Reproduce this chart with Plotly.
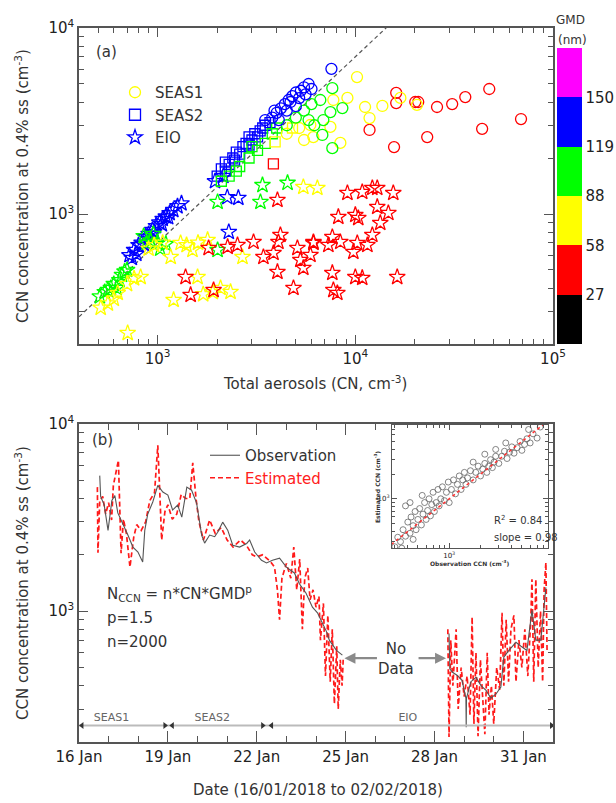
import numpy as np
import pandas as pd
import plotly.graph_objects as go

W, H = 616, 803
FONT = "DejaVu Sans"
TXT = "#333333"
AXC = "#555555"


def px(x):
    return x / W


def py(y):
    return 1 - y / H


# ---------------- Panel (a): CCN vs CN, coloured by GMD (nm) ----------------
# SEAS1 (circles)
seas1_cn = [16100, 16100, 20100, 20800, 25900, 30900, 36000, 47600, 68900, 43800, 23100, 15700, 11800,
            10200, 11200, 11800, 13700, 16900, 20500, 9120, 8400, 6130, 5920, 7480, 7740, 4500, 5200, 5500,
            7650, 6650, 7480, 8600, 6890, 6810, 7650, 5000, 5500, 6000, 4500, 5800, 6200,
            3800, 4000, 4200, 4400, 4600, 4800, 5000, 5200, 5500, 5800, 6000, 4500, 5300, 4100, 4700, 5600,
            7570, 3500, 3900, 5000]
seas1_ccn = [4480, 3950, 4000, 4000, 3760, 3900, 4250, 4700, 3240, 2870, 2590, 2290, 2830,
             5450, 3760, 3280, 3810, 4210, 3860, 4210, 2410, 2590, 3010, 2940, 4100, 2700, 2900, 2500,
             4750, 4100, 3530, 3710, 3200, 2660, 2260, 3300, 3600, 3900, 3000, 3200, 3000,
             3300, 3500, 3700, 3900, 4100, 4300, 4500, 4200, 4800, 5000, 4700, 3600, 4600, 3200, 4000, 4400,
             6030, 3200, 3600, 3800]
seas1_gmd = [45] * 13 + [72] * 15 + [100] * 13 + [135] * 20

# SEAS2 (squares)
seas2_cn = [2000, 2100, 2200, 2300, 2400, 2500, 2600, 2700, 2800, 2900, 3000, 3100, 3200, 3300, 3500, 3700,
            2200, 2450, 2900, 3400,
            2300, 2600, 2900, 3200, 3500, 3800, 2500, 2100, 3000, 4000,
            4810, 3930,
            3850]
seas2_ccn = [1600, 1750, 1900, 1850, 2000, 2150, 2100, 2300, 2400, 2350, 2500, 2700, 2600, 2800, 3000, 3100,
             1700, 1950, 2600, 2900,
             1600, 1800, 2000, 2200, 2400, 2700, 1700, 1500, 2300, 2900,
             2900, 2440,
             1860]
seas2_gmd = [135] * 20 + [100] * 10 + [72] * 2 + [45] * 1

# EIO (stars)
eio_cn = [720, 760, 800, 830, 870, 900, 940, 980, 1020, 1060, 1100, 1150, 1200, 1260, 1320, 780, 850, 960,
          1050, 1130, 740, 2250, 2560, 2290, 1950, 2150,
          510, 540, 560, 600, 640, 660, 700, 620, 580, 680, 880, 920, 1000, 1100, 1030, 3390, 4540, 2010,
          3311, 2010, 850, 950,
          515, 628, 705, 1204, 1592, 1789, 1306, 1164, 2686, 2080, 2337, 820, 5458, 6427, 560, 600, 700,
          760, 900, 960, 1060, 1400, 1600, 1500, 1900, 1700,
          4036, 3055, 4178, 4083, 2535, 2259, 1810, 3428, 3855, 5093, 6138, 5929, 5272, 5458, 4036, 4864,
          1384, 1468, 1918, 9120, 10840, 12190, 12910, 15560, 8204, 10000, 10350, 12910, 14690, 13370,
          12190, 11510, 10230, 9772, 8395, 7305, 7650, 6138, 7650, 10000, 10840, 16290, 7743, 8110]
eio_ccn = [600, 640, 680, 700, 750, 780, 820, 860, 900, 940, 970, 1010, 1050, 1100, 1140, 610, 690, 800,
           880, 960, 580, 1230, 1220, 800, 1500, 1600,
           360, 380, 390, 420, 440, 470, 500, 400, 400, 490, 700, 720, 700, 690, 650, 1430, 1470, 1160,
           1160, 640, 760, 780,
           313, 376, 229, 345, 458, 725, 698, 587, 587, 400, 381, 458, 1397, 1380, 330, 350, 420,
           450, 650, 680, 700, 680, 700, 640, 380, 370,
           1189, 707, 771, 707, 681, 665, 656, 587, 617, 656, 707, 602, 566, 513, 488, 400,
           458, 367, 390, 1297, 1313, 1380, 1380, 1297, 964, 988, 951, 1091, 1012, 895,
           771, 681, 698, 625, 707, 681, 752, 698, 482, 458, 453, 458, 390, 376]
eio_gmd = [135] * 26 + [100] * 22 + [72] * 26 + [45] * 44

gmd_edges = [27, 58, 88, 119, 150]
gmd_labels = ["27", "58", "88", "119", "150"]
gmd_colors = ["#000000", "#ff0000", "#ffff00", "#00ff00", "#0000ff", "#ff00ff"]
fit_ratio = 0.7  # dashed reference line CCN = 0.7 * CN
fit_cn = [400, 100000]

# ---------------- Panel (b): time series ----------------
obs_day1 = [16.70, 16.73, 16.85, 16.98, 17.11, 17.21, 17.31, 17.48, 17.65, 17.82, 17.99, 18.15, 18.22, 18.32,
            18.49, 18.66, 18.83, 19.00, 19.16, 19.33, 19.47, 19.64, 19.80, 19.97, 20.14, 20.24, 20.41, 20.58,
            20.68, 20.85, 21.02, 21.19, 21.42, 21.66, 21.76, 21.93, 22.16, 22.33, 22.53, 22.77, 23.00, 23.27,
            23.44, 23.66, 23.88, 24.05, 24.22, 24.35, 24.45, 24.58, 24.69, 24.89]
obs_val1 = [5300, 4100, 3700, 2700, 3900, 4150, 3350, 2950, 2550, 2200, 2070, 1830, 2700, 3300, 3830, 4700,
            4330, 4170, 3470, 3690, 3180, 4600, 4430, 3780, 2550, 2310, 2550, 2500, 2640, 2990, 2710, 2250,
            2200, 2300, 2400, 2070, 1870, 1810, 1870, 1920, 1720, 1600, 1400, 1250, 1050, 980, 862, 780, 700,
            650, 617, 582]
obs_day2 = [28.49, 28.52, 28.62, 28.76, 28.93, 29.06, 29.07, 29.08, 29.23, 29.40, 29.57, 29.74, 29.90, 30.07,
            30.24, 30.34, 30.51, 30.75, 30.92, 31.12, 31.29, 31.42, 31.59, 31.76]
obs_val2 = [760, 490, 470, 455, 427, 343, 240, 343, 420, 443, 400, 378, 343, 360, 393, 568, 617, 682, 650,
            617, 1010, 700, 700, 1340]

est_day1 = [16.62, 16.64, 16.70, 16.80, 16.90, 17.00, 17.10, 17.16, 17.33, 17.42, 17.50, 17.60, 17.72, 17.85,
            17.95, 18.10, 18.25, 18.39, 18.55, 18.66, 18.72, 18.79, 18.90, 19.00, 19.15, 19.30, 19.45, 19.60,
            19.74, 19.84, 19.95, 20.05, 20.20, 20.41, 20.60, 20.80, 21.00, 21.20, 21.45, 21.65, 21.85, 21.99,
            22.20, 22.45, 22.60, 22.70, 22.77, 22.85, 23.00, 23.15, 23.25, 23.35, 23.45, 23.54, 23.62, 23.72,
            23.80, 23.90, 24.00, 24.10, 24.15, 24.25, 24.32, 24.40, 24.48, 24.55, 24.62, 24.70, 24.75, 24.82,
            24.88, 24.92]
est_val1 = [4600, 2050, 3900, 4100, 3300, 3800, 3070, 4700, 6400, 2040, 3100, 2600, 1720, 2500, 2900, 2700,
            3000, 3900, 4300, 7700, 4600, 2400, 3400, 3700, 3100, 3300, 4200, 4000, 4000, 6200, 4000, 3000,
            2400, 3070, 2600, 2800, 2400, 2200, 2400, 2250, 2000, 1950, 2000, 1850, 1720, 1290, 900, 1500,
            1800, 1500, 2200, 1300, 1900, 800, 1500, 1700, 1150, 1300, 1050, 1200, 700, 1100, 450, 950, 420,
            800, 320, 650, 300, 550, 400, 560]
est_day2 = [28.45, 28.49, 28.55, 28.62, 28.73, 28.80, 28.90, 29.00, 29.10, 29.20, 29.27, 29.33, 29.40, 29.47,
            29.55, 29.62, 29.70, 29.78, 29.84, 29.92, 30.00, 30.10, 30.20, 30.28, 30.34, 30.42, 30.50, 30.58,
            30.68, 30.75, 30.85, 30.95, 31.05, 31.15, 31.25, 31.29, 31.35, 31.42, 31.50, 31.58, 31.65, 31.70,
            31.76, 31.80]
est_val2 = [800, 213, 700, 400, 800, 300, 500, 350, 450, 280, 930, 250, 600, 215, 550, 350, 220, 600, 280,
            400, 250, 500, 380, 980, 400, 900, 420, 800, 950, 420, 700, 500, 800, 450, 900, 1480, 420, 1480,
            500, 1000, 420, 1300, 1820, 600]

# cruise legs (day of January)
leg_names = ["SEAS1", "SEAS2", "EIO"]
leg_start = [16.1, 19.15, 22.5]
leg_end = [18.9, 22.2, 31.95]
leg_label_day = [17.1, 20.5, 27.1]
leg_line_ccn = 245

# inset: observation vs estimated CCN
inset_obs = [300, 320, 340, 360, 380, 400, 420, 430, 450, 470, 480, 500, 520, 540, 560, 580, 600, 620, 640,
             660, 680, 700, 720, 750, 780, 800, 830, 860, 900, 940, 980, 1000, 1050, 1100, 1150, 1200, 1250,
             1300, 1350, 1400, 1450, 1500, 1600, 1700, 1800, 1900, 2000, 2100, 2200, 2300, 2400, 2500, 2600,
             2700, 2800, 3000, 3200, 3400, 3600, 3800, 4000, 4200, 4500, 4800, 5000, 5300, 5600, 6000, 6400,
             7000, 420, 380, 550, 350, 450, 5800, 7500, 2200, 2800, 3500, 1700]
inset_est = [260, 340, 300, 420, 350, 520, 380, 600, 470, 700, 420, 560, 760, 480, 650, 900, 560, 720, 1000,
             620, 850, 1200, 700, 900, 1300, 820, 1000, 1400, 950, 1200, 1600, 900, 1300, 1700, 1150, 1500,
             1900, 1300, 1700, 2100, 1500, 1800, 2200, 1700, 2100, 2500, 1900, 2300, 2700, 2100, 2500, 3000,
             2400, 2800, 3300, 2700, 3300, 3800, 3100, 3700, 4300, 3600, 4200, 5000, 3900, 4600, 5400, 4800,
             6200, 5500, 900, 820, 1100, 250, 320, 7000, 7500, 3500, 4000, 4800, 2800]
inset_line = [250, 8000]

date_ticks = [16, 19, 22, 25, 28, 31]
date_ticktext = ["16 Jan", "19 Jan", "22 Jan", "25 Jan", "28 Jan", "31 Jan"]

# ---------------------------------------------------------------------------
BASE = pd.Timestamp("2018-01-01")


def to_dt(days):
    return [BASE + pd.to_timedelta(d - 1, unit="D") for d in days]


def join(d1, v1, d2, v2):
    return to_dt(d1) + [None] + to_dt(d2), list(v1) + [None] + list(v2)


nb = len(gmd_colors)
cscale = []
for i, c in enumerate(gmd_colors):
    cscale.append([i / nb, c])
    cscale.append([(i + 1) / nb, c])


def gmd_level(g):
    return np.digitize(g, gmd_edges) + 0.5


fig = go.Figure()

# dashed reference line
fig.add_trace(go.Scatter(x=fit_cn, y=[fit_ratio * v for v in fit_cn], mode="lines",
                         line=dict(color="#555555", width=1.2, dash="4px,3px"),
                         showlegend=False, hoverinfo="skip", xaxis="x", yaxis="y"))

groups = [("EIO", eio_cn, eio_ccn, eio_gmd, "star-open", 12),
          ("SEAS2", seas2_cn, seas2_ccn, seas2_gmd, "square-open", 10),
          ("SEAS1", seas1_cn, seas1_ccn, seas1_gmd, "circle-open", 11)]
for k, (name, cn, ccn, gmd, sym, sz) in enumerate(groups):
    mk = dict(symbol=sym, size=sz, color=gmd_level(gmd), colorscale=cscale, cmin=0, cmax=nb,
              line=dict(width=1.3))
    if k == 0:
        mk.update(showscale=True, colorbar=dict(
            x=px(557), xanchor="left", xpad=0, y=py(196), yanchor="middle", ypad=0,
            len=296, lenmode="pixels", thickness=25, thicknessmode="pixels",
            tickvals=list(range(1, nb)), ticktext=gmd_labels, ticks="", outlinewidth=0,
            tickfont=dict(size=15, family=FONT, color="#222")))
    fig.add_trace(go.Scatter(x=cn, y=ccn, mode="markers", marker=mk, showlegend=False,
                             name=name, xaxis="x", yaxis="y"))

# legend (a)
for name, sym, col in [("SEAS1", "circle-open", "#ffff00"), ("SEAS2", "square-open", "#0000ff"),
                       ("EIO", "star-open", "#0000ff")]:
    fig.add_trace(go.Scatter(x=[None], y=[None], mode="markers", name=name,
                             marker=dict(symbol=sym, size=11, color=col, line=dict(width=1.3)),
                             legend="legend", xaxis="x", yaxis="y"))

# panel (b) series
ox, oy = join(obs_day1, obs_val1, obs_day2, obs_val2)
ex, ey = join(est_day1, est_val1, est_day2, est_val2)
fig.add_trace(go.Scatter(x=ex, y=ey, mode="lines", name="<span style='color:#ff2020'>Estimated</span>",
                         line=dict(color="#ff1a1a", width=1.7, dash="5px,3px"), legend="legend2",
                         xaxis="x2", yaxis="y2", connectgaps=False))
fig.add_trace(go.Scatter(x=ox, y=oy, mode="lines", name="Observation",
                         line=dict(color="#555555", width=1.1), legend="legend2",
                         xaxis="x2", yaxis="y2", connectgaps=False))

# leg bar
fig.add_trace(go.Scatter(x=to_dt([16.0, 32.0]), y=[leg_line_ccn] * 2, mode="lines",
                         line=dict(color="#bbbbbb", width=2), showlegend=False, hoverinfo="skip",
                         xaxis="x2", yaxis="y2"))
fig.add_trace(go.Scatter(x=to_dt(leg_start), y=[leg_line_ccn] * 3, mode="markers",
                         marker=dict(symbol="triangle-left", size=6, color="#333333"),
                         showlegend=False, hoverinfo="skip", xaxis="x2", yaxis="y2"))
fig.add_trace(go.Scatter(x=to_dt(leg_end), y=[leg_line_ccn] * 3, mode="markers",
                         marker=dict(symbol="triangle-right", size=6, color="#333333"),
                         showlegend=False, hoverinfo="skip", xaxis="x2", yaxis="y2"))
fig.add_trace(go.Scatter(x=to_dt(leg_label_day), y=[leg_line_ccn * 1.09] * 3, mode="text",
                         text=leg_names, textfont=dict(size=11, family=FONT, color="#666666"),
                         showlegend=False, hoverinfo="skip", xaxis="x2", yaxis="y2"))

# inset
fig.add_trace(go.Scatter(x=inset_obs, y=inset_est, mode="markers",
                         marker=dict(symbol="circle-open", size=6, color="#666666", line=dict(width=0.8)),
                         showlegend=False, xaxis="x3", yaxis="y3"))
fig.add_trace(go.Scatter(x=inset_line, y=inset_line, mode="lines",
                         line=dict(color="#ff3030", width=1.5, dash="dot"),
                         showlegend=False, xaxis="x3", yaxis="y3"))


def minor_vals(lo_dec, hi_dec, lo=None, hi=None):
    out = []
    for d in range(lo_dec, hi_dec):
        for m in range(2, 10):
            v = m * 10 ** d
            if (lo is None or v > lo) and (hi is None or v < hi):
                out.append(v)
    return out


def axis_common(**kw):
    d = dict(showline=True, linecolor=AXC, linewidth=1.5, mirror="ticks", ticks="inside",
             tickcolor=AXC, ticklen=9, tickwidth=1.2, showgrid=False, zeroline=False,
             automargin=False,
             tickfont=dict(size=15, family=FONT, color="#222"))
    d.update(kw)
    return d


dx = [px(79), px(553)]
fig.update_layout(
    width=W, height=H, margin=dict(l=0, r=0, t=0, b=0, autoexpand=False),
    paper_bgcolor="white", plot_bgcolor="white",
    font=dict(family=FONT, color=TXT),
    xaxis=axis_common(type="log", range=[np.log10(400), 5], domain=dx, anchor="y",
                      tickvals=[1e3, 1e4, 1e5], ticktext=["10<sup>3</sup>", "10<sup>4</sup>", "10<sup>5</sup>"],
                      minor=dict(tickvals=minor_vals(2, 5, lo=400), ticks="inside", ticklen=5,
                                 tickcolor=AXC)),
    yaxis=axis_common(type="log", range=[np.log10(200), 4], domain=[py(344), py(28)], anchor="x",
                      tickvals=[1e3, 1e4], ticktext=["10<sup>3</sup>", "10<sup>4</sup>"],
                      minor=dict(tickvals=minor_vals(2, 4, lo=200), ticks="inside", ticklen=5,
                                 tickcolor=AXC)),
    xaxis2=axis_common(type="date", range=to_dt([16, 32]), domain=dx, anchor="y2",
                       tickvals=to_dt(date_ticks), ticktext=date_ticktext, ticklen=11,
                       minor=dict(dtick=86400000, tick0=to_dt([16])[0], ticks="inside", ticklen=6,
                                  tickcolor=AXC)),
    yaxis2=axis_common(type="log", range=[np.log10(200), 4], domain=[py(742), py(424)], anchor="x2",
                       tickvals=[1e3, 1e4], ticktext=["10<sup>3</sup>", "10<sup>4</sup>"],
                       minor=dict(tickvals=minor_vals(2, 4, lo=200), ticks="inside", ticklen=5,
                                  tickcolor=AXC)),
    xaxis3=axis_common(type="log", range=[2.45, 3.95], domain=[px(392), px(548)], anchor="y3",
                       tickvals=[1e3], ticktext=["10<sup>3</sup>"], ticklen=5, linewidth=1.2,
                       tickfont=dict(size=7, family=FONT, color="#222"),
                       minor=dict(tickvals=minor_vals(2, 4, lo=290, hi=8900), ticks="inside", ticklen=3,
                                  tickcolor=AXC)),
    yaxis3=axis_common(type="log", range=[2.4, 3.9], domain=[py(548), py(425)], anchor="x3",
                       tickvals=[1e3], ticktext=["10<sup>3</sup>"], ticklen=5, linewidth=1.2,
                       tickfont=dict(size=7, family=FONT, color="#222"),
                       minor=dict(tickvals=minor_vals(2, 4, lo=260, hi=7900), ticks="inside", ticklen=3,
                                  tickcolor=AXC)),
    legend=dict(x=px(115), y=py(76), xanchor="left", yanchor="top", bgcolor="rgba(0,0,0,0)",
                font=dict(size=15, family=FONT, color=TXT), tracegroupgap=0, itemwidth=30),
    legend2=dict(x=px(205), y=py(439), xanchor="left", yanchor="top", bgcolor="rgba(0,0,0,0)",
                 font=dict(size=15, family=FONT, color=TXT), tracegroupgap=0, traceorder="reversed"),
)

ann = []


def txt(x, y, s, size=15, color=TXT, angle=0, xanchor="center", yanchor="middle"):
    ann.append(dict(x=px(x), y=py(y), xref="paper", yref="paper", text=s, showarrow=False,
                    textangle=angle, xanchor=xanchor, yanchor=yanchor,
                    font=dict(size=size, family=FONT, color=color)))


ylab = "CCN concentration at 0.4% ss (cm<sup>-3</sup>)"
txt(22, 186, ylab, angle=-90)
txt(22, 583, ylab, angle=-90)
txt(315, 383, "Total aerosols (CN, cm<sup>-3</sup>)")
txt(318, 790, "Date (16/01/2018 to 02/02/2018)")
txt(94, 52, "(a)", xanchor="left")
txt(90, 440, "(b)", xanchor="left")
txt(570, 20, "GMD", size=12, xanchor="center")
txt(572, 40, "(nm)", size=12, xanchor="center")
txt(105, 593, "N<sub>CCN</sub> = n*CN*GMD<sup>p</sup>", xanchor="left")
txt(105, 618, "p=1.5", xanchor="left")
txt(105, 642, "n=2000", xanchor="left")
txt(396, 659, "No<br>Data", color="#333")
txt(492, 520, "R<sup>2</sup> = 0.84", size=10, xanchor="left")
txt(492, 537, "slope = 0.98", size=10, xanchor="left")
txt(377, 487, "<b>Estimated CCN (cm<sup>-3</sup>)</b>", size=6, angle=-90)
txt(470, 563, "<b>Observation CCN (cm<sup>-3</sup>)</b>", size=6)

# No Data arrows
for day, axo in [(24.96, 34), (28.39, -29)]:
    ann.append(dict(x=to_dt([day])[0], y=np.log10(561), xref="x2", yref="y2", ax=axo, ay=0,
                    text="", showarrow=True, arrowhead=2, arrowsize=1, arrowwidth=2.2,
                    arrowcolor="#8a8a8a"))

fig.update_layout(annotations=ann)
fig.write_html("out.html")
